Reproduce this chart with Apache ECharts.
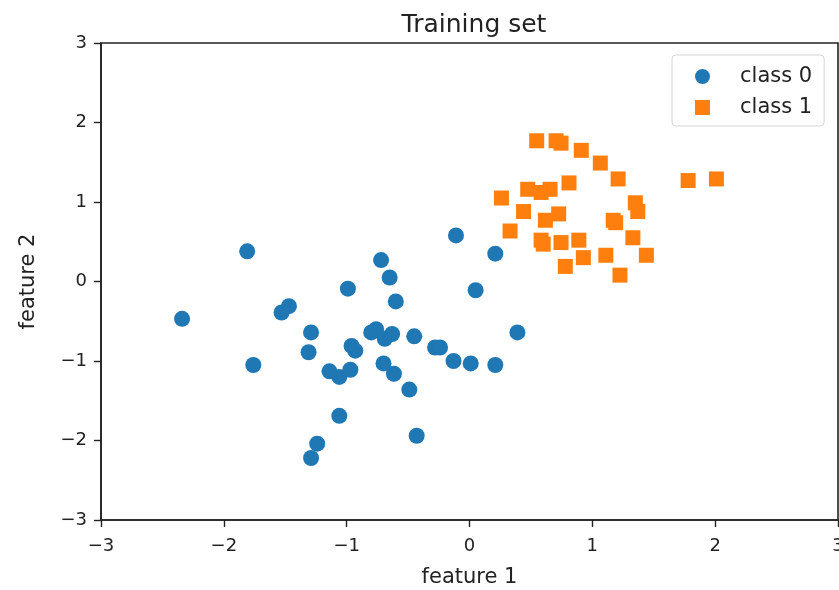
<!DOCTYPE html>
<html>
<head>
<meta charset="utf-8">
<script src="https://cdn.jsdelivr.net/npm/echarts@6/dist/echarts.min.js"></script>
<style>
  html, body { margin: 0; padding: 0; background: #fff; }
  #chart { width: 839px; height: 590px; }
</style>
</head>
<body>
<div id="chart"></div>
<script>
// class 0 points (feature 1, feature 2)
var class0 = [
  [-1.81, 0.38], [-2.34, -0.47], [-1.76, -1.05], [-0.72, 0.27], [-0.65, 0.05],
  [-0.99, -0.09], [-0.60, -0.25], [-1.47, -0.31], [-1.53, -0.39], [-1.29, -0.64],
  [-1.31, -0.89], [-0.80, -0.64], [-0.76, -0.60], [-0.69, -0.72], [-0.63, -0.66],
  [-0.45, -0.69], [-0.96, -0.81], [-0.93, -0.87], [-0.70, -1.03], [-0.615, -1.16],
  [-0.49, -1.36], [-1.14, -1.13], [-1.06, -1.20], [-0.97, -1.11], [-1.06, -1.69],
  [-0.43, -1.94], [-1.24, -2.04], [-1.29, -2.22], [-0.11, 0.58], [0.21, 0.35],
  [0.05, -0.11], [0.39, -0.64], [-0.28, -0.83], [-0.24, -0.83], [-0.13, -1.00],
  [0.01, -1.03], [0.21, -1.05]
];

// class 1 points
var class1 = [
  [0.547, 1.77], [0.705, 1.77], [0.745, 1.74], [0.91, 1.65], [1.065, 1.49],
  [1.21, 1.29], [1.78, 1.27], [2.01, 1.29], [0.81, 1.24], [0.474, 1.16],
  [0.583, 1.12], [0.656, 1.16], [0.26, 1.05], [1.35, 0.99], [1.37, 0.88],
  [0.44, 0.88], [0.726, 0.85], [0.618, 0.77], [1.17, 0.77], [1.19, 0.74],
  [0.33, 0.635], [1.33, 0.55], [0.583, 0.52], [0.60, 0.47], [0.745, 0.49],
  [0.89, 0.52], [1.44, 0.33], [1.11, 0.33], [0.927, 0.30], [0.78, 0.19],
  [1.225, 0.08]
];

var seriesNames = ['class 0', 'class 1'];
var axisMin = -3, axisMax = 3, axisStep = 1;

var fontFam = '"DejaVu Sans", sans-serif';

// matplotlib style minus sign
function fmtTick(v) {
  return String(v).replace('-', '\u2212');
}

var chart = echarts.init(document.getElementById('chart'));

var axisCommon = {
  type: 'value',
  min: axisMin,
  max: axisMax,
  interval: axisStep,
  splitLine: { show: false },
  axisLine: { show: true, onZero: false, lineStyle: { color: '#222', width: 1.6 } },
  axisTick: { show: true, length: 7, inside: false, lineStyle: { color: '#222', width: 1.4 } },
  axisLabel: { color: '#222', fontSize: 18, fontFamily: fontFam, formatter: fmtTick },
  nameTextStyle: { color: '#222', fontSize: 21, fontFamily: fontFam }
};

var option = {
  animation: false,
  backgroundColor: '#fff',
  title: {
    text: 'Training set',
    left: 469,
    textAlign: 'center',
    top: 8,
    textStyle: { color: '#222', fontSize: 25, fontWeight: 'normal', fontFamily: fontFam }
  },
  grid: {
    left: 101,
    right: 1,
    top: 43,
    bottom: 70,
    outerBoundsMode: 'none',
    containLabel: false,
    show: true,
    borderColor: '#222',
    borderWidth: 1.6
  },
  legend: {
    orient: 'vertical',
    left: 672,
    top: 55,
    padding: [11, 12, 8, 23],
    itemGap: 10,
    itemWidth: 15,
    itemHeight: 15,
    backgroundColor: '#fff',
    borderColor: '#d5d5d5',
    borderWidth: 1,
    borderRadius: 4,
    textStyle: { color: '#222', fontSize: 21, fontFamily: fontFam, padding: [0, 0, 0, 25] },
    data: [
      { name: seriesNames[0], icon: 'circle' },
      { name: seriesNames[1], icon: 'rect' }
    ]
  },
  xAxis: Object.assign({}, axisCommon, {
    name: 'feature 1',
    nameLocation: 'middle',
    nameGap: 47,
    axisLabel: Object.assign({}, axisCommon.axisLabel, { margin: 17 })
  }),
  yAxis: Object.assign({}, axisCommon, {
    name: 'feature 2',
    nameLocation: 'middle',
    nameGap: 62,
    axisLabel: Object.assign({}, axisCommon.axisLabel, { margin: 14 })
  }),
  series: [
    {
      name: seriesNames[0],
      type: 'scatter',
      symbol: 'circle',
      symbolSize: 16,
      itemStyle: { color: '#1f77b4', opacity: 1 },
      data: class0
    },
    {
      name: seriesNames[1],
      type: 'scatter',
      symbol: 'rect',
      symbolSize: 15,
      itemStyle: { color: '#ff7f0e', opacity: 1 },
      data: class1
    }
  ]
};

chart.setOption(option);
</script>
</body>
</html>
